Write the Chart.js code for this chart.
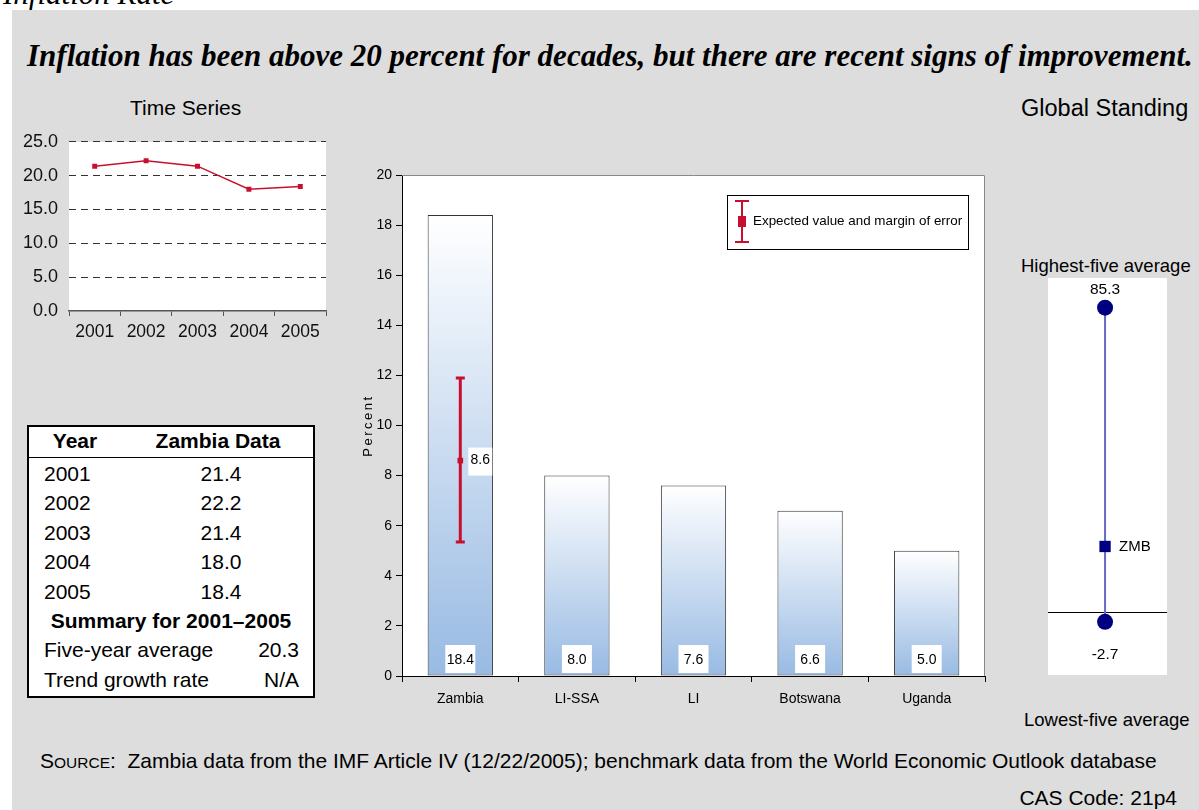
<!DOCTYPE html>
<html><head><meta charset="utf-8">
<script src="https://cdn.jsdelivr.net/npm/chart.js@4/dist/chart.umd.min.js"></script>
<style>
html,body{margin:0;padding:0;background:#fff;width:1199px;height:810px;overflow:hidden;position:relative;font-family:Arial,"Liberation Sans",sans-serif;}
.panel{position:absolute;left:12px;top:10px;width:1187px;height:800px;background:#dddddd;}
.t{position:absolute;white-space:nowrap;color:#000;}
canvas{position:absolute;}
#tbl{position:absolute;left:27px;top:425px;width:284px;height:269px;border:2px solid #000;background:#fff;font-size:21px;}
#tbl .c{position:absolute;white-space:nowrap;line-height:24px;height:24px;}
</style></head><body>
<div class="t" style="left:3px;top:-22px;font:italic 31px 'Liberation Serif','Times New Roman',serif;line-height:31px;">Inflation Rate</div>
<div class="panel"></div>
<div class="t" style="left:27px;top:38px;font:italic bold 31px 'Liberation Serif','Times New Roman',serif;line-height:36px;">Inflation has been above 20 percent for decades, but there are recent signs of improvement.</div>
<div class="t" style="left:130px;top:95px;font-size:21px;line-height:26px;">Time Series</div>
<div class="t" style="left:1021px;top:94px;font-size:23.5px;line-height:28px;">Global Standing</div>
<div class="t" style="left:1021px;top:254px;font-size:18.5px;line-height:24px;">Highest-five average</div>
<div class="t" style="left:1024px;top:708px;font-size:18.5px;line-height:24px;">Lowest-five average</div>
<div class="t" style="left:40px;top:748px;font-size:21px;line-height:26px;">S<span style="font-size:15.5px">OURCE</span>:&nbsp; Zambia data from the IMF Article IV (12/22/2005); benchmark data from the World Economic Outlook database</div>
<div class="t" style="right:22px;top:785px;font-size:21px;line-height:26px;">CAS Code: 21p4</div>

<div id="tbl"></div>

<canvas id="ts" width="330" height="240" style="left:12px;top:120px;"></canvas>
<canvas id="bar" width="660" height="570" style="left:340px;top:150px;"></canvas>
<canvas id="gs" width="135" height="420" style="left:1040px;top:270px;"></canvas>

<script>
// ---------- data ----------
const years = ['2001', '2002', '2003', '2004', '2005'];
const zambiaInflation = [21.4, 22.2, 21.4, 18.0, 18.4];
const fiveYearAverage = '20.3';
const trendGrowthRate = 'N/A';

const benchCategories = ['Zambia', 'LI-SSA', 'LI', 'Botswana', 'Uganda'];
const benchValues = [18.4, 8.0, 7.6, 6.6, 5.0];
const expectedValue = [8.6, null, null, null, null];
const errorLow = [5.35, null, null, null, null];
const errorHigh = [11.9, null, null, null, null];

const standingRange = [85.3, -2.7];   // highest-five avg, lowest-five avg
const standingZMB = [18.4];

const RED = '#c8102e';
const NAVY = '#000080';
const NARROW = "'Liberation Sans Narrow','Arial Narrow',Arial,sans-serif";

// ---------- table ----------
(function(){
  const tbl = document.getElementById('tbl');
  const add = (html, style) => { const d = document.createElement('div'); d.className = 'c'; d.innerHTML = html; d.style.cssText += style; tbl.appendChild(d); };
  add('<b>Year</b>', 'left:0;width:92px;text-align:center;top:2px;');
  add('<b>Zambia Data</b>', 'left:119px;width:140px;text-align:center;top:2px;');
  const line = document.createElement('div'); line.style.cssText = 'position:absolute;left:0;right:0;top:30px;height:0;border-top:1.5px solid #000;'; tbl.appendChild(line);
  const rowTop = i => (35 + i * 29.4) + 'px';
  years.forEach((y, i) => {
    add(y, 'left:15px;top:' + rowTop(i) + ';');
    add(zambiaInflation[i].toFixed(1), 'left:152px;width:80px;text-align:center;top:' + rowTop(i) + ';');
  });
  add('<b>Summary for 2001–2005</b>', 'left:0;width:284px;text-align:center;top:' + rowTop(5) + ';');
  add('Five-year average', 'left:15px;top:' + rowTop(6) + ';');
  add(fiveYearAverage, 'right:14px;top:' + rowTop(6) + ';');
  add('Trend growth rate', 'left:15px;top:' + rowTop(7) + ';');
  add(trendGrowthRate, 'right:14px;top:' + rowTop(7) + ';');
})();

// ---------- plugins ----------
const whitePlot = { id: 'whitePlot', beforeDraw(chart) {
  const { ctx, chartArea: a } = chart; ctx.save(); ctx.fillStyle = '#fff';
  ctx.fillRect(a.left, a.top, a.right - a.left, a.bottom - a.top); ctx.restore(); } };

// ---------- time series ----------
new Chart(document.getElementById('ts'), {
  type: 'line',
  data: { labels: years, datasets: [{ data: zambiaInflation, borderColor: RED, backgroundColor: RED, borderWidth: 1.5,
    pointStyle: 'rect', pointRadius: 3.5, pointBorderWidth: 0, tension: 0 }] },
  options: {
    responsive: false, animation: false, events: [],
    plugins: { legend: { display: false }, tooltip: { enabled: false } },
    layout: { padding: { left: 0, right: 16, top: 17, bottom: 0 } },
    scales: {
      x: { offset: true, afterFit: s => { s.height = 49; },
        grid: { offset: true, drawOnChartArea: false, tickLength: 5, color: '#555' },
        border: { color: '#555', width: 1.5 },
        ticks: { font: { family: 'Arial', size: 17.5 }, color: '#111', padding: 6 } },
      y: { min: 0, max: 25, afterFit: s => { s.width = 57; },
        ticks: { stepSize: 5, callback: v => Number(v).toFixed(1), font: { family: 'Arial', size: 18 }, color: '#111', padding: 11 },
        grid: { drawTicks: false, color: c => (c.tick && c.tick.value === 0) ? 'rgba(0,0,0,0)' : '#333', lineWidth: 1 },
        border: { display: false, dash: [7, 5] } }
    }
  },
  plugins: [whitePlot]
});

// ---------- benchmark bars ----------
const barDecor = {
  id: 'barDecor',
  afterDatasetDraw(chart, args) {
    if (args.index !== 1) return;
    const { ctx, scales: { x, y } } = chart;
    ctx.save();
    ctx.strokeStyle = RED; ctx.lineWidth = 3;
    errorLow.forEach((lo, i) => {
      if (lo == null) return;
      const px = x.getPixelForValue(i);
      const y1 = y.getPixelForValue(lo), y2 = y.getPixelForValue(errorHigh[i]);
      ctx.beginPath(); ctx.moveTo(px, y1); ctx.lineTo(px, y2);
      ctx.moveTo(px - 4.5, y1); ctx.lineTo(px + 4.5, y1);
      ctx.moveTo(px - 4.5, y2); ctx.lineTo(px + 4.5, y2); ctx.stroke();
    });
    ctx.restore();
  },
  afterDraw(chart) {
    const { ctx, chartArea: a, scales: { x, y } } = chart;
    ctx.save();
    // top/right frame
    ctx.strokeStyle = '#888'; ctx.lineWidth = 1;
    ctx.beginPath(); ctx.moveTo(a.left, a.top + 0.5); ctx.lineTo(a.right - 0.5, a.top + 0.5); ctx.lineTo(a.right - 0.5, a.bottom); ctx.stroke();
    // y-axis title (letter-spaced)
    ctx.save();
    ctx.translate(28, (a.top + a.bottom) / 2); ctx.rotate(-Math.PI / 2);
    ctx.font = '13px Arial'; ctx.fillStyle = '#000'; ctx.textAlign = 'center'; ctx.textBaseline = 'middle';
    try { ctx.letterSpacing = '2.5px'; } catch (e) {}
    ctx.fillText('Percent', 0, 0);
    ctx.restore();
    // value boxes
    ctx.font = '14px ' + NARROW; ctx.textAlign = 'center'; ctx.textBaseline = 'middle';
    const meta = chart.getDatasetMeta(1);
    meta.data.forEach((bar, i) => {
      const base = y.getPixelForValue(0);
      ctx.fillStyle = '#fff'; ctx.fillRect(bar.x - 15, base - 31, 30, 28);
      ctx.fillStyle = '#000'; ctx.fillText(benchValues[i].toFixed(1), bar.x, base - 16);
    });
    // expected value label
    expectedValue.forEach((v, i) => {
      if (v == null) return;
      const px = x.getPixelForValue(i), py = y.getPixelForValue(v);
      ctx.fillStyle = '#fff'; ctx.fillRect(px + 8, py - 13, 24, 28);
      ctx.fillStyle = '#000'; ctx.fillText(v.toFixed(1), px + 20, py);
    });
    // legend
    const lx = a.right - 258, ly = a.top + 20, lw = 241, lh = 54;
    ctx.fillStyle = '#fff'; ctx.fillRect(lx, ly, lw, lh);
    ctx.strokeStyle = '#000'; ctx.lineWidth = 1; ctx.strokeRect(lx + 0.5, ly + 0.5, lw, lh);
    const sx = lx + 15;
    ctx.strokeStyle = RED; ctx.lineWidth = 2;
    ctx.beginPath(); ctx.moveTo(sx, ly + 6); ctx.lineTo(sx, ly + 47);
    ctx.moveTo(sx - 7, ly + 6); ctx.lineTo(sx + 7, ly + 6);
    ctx.moveTo(sx - 7, ly + 47); ctx.lineTo(sx + 7, ly + 47); ctx.stroke();
    ctx.fillStyle = RED; ctx.fillRect(sx - 4, ly + 21, 8, 11);
    ctx.fillStyle = '#000'; ctx.textAlign = 'left'; ctx.font = '13.4px ' + NARROW;
    ctx.fillText('Expected value and margin of error', lx + 26, ly + 26);
    ctx.restore();
  }
};

new Chart(document.getElementById('bar'), {
  data: { labels: benchCategories, datasets: [
    { type: 'line', data: expectedValue, showLine: false, pointStyle: 'rect', pointRadius: 4, pointBorderWidth: 0,
      backgroundColor: RED, borderColor: RED },
    { type: 'bar', data: benchValues, borderColor: '#333', borderWidth: 1, borderSkipped: false,
      barPercentage: 0.7, categoryPercentage: 0.8,
      backgroundColor: c => {
        const ch = c.chart; if (!ch.chartArea || c.type !== 'data') return '#c9daf0';
        const y0 = ch.scales.y.getPixelForValue(0), y1 = ch.scales.y.getPixelForValue(c.raw);
        const g = ch.ctx.createLinearGradient(0, y1, 0, y0);
        g.addColorStop(0, '#ffffff'); g.addColorStop(1, '#98bae3');
        return g;
      } }
  ] },
  options: {
    responsive: false, animation: false, events: [],
    plugins: { legend: { display: false }, tooltip: { enabled: false } },
    layout: { padding: { left: 0, right: 15, top: 25, bottom: 0 } },
    scales: {
      x: { afterFit: s => { s.height = 44; },
        grid: { offset: true, drawOnChartArea: false, tickLength: 6, color: '#000' },
        border: { color: '#000', width: 1 },
        ticks: { font: { family: NARROW, size: 14 }, color: '#000', padding: 9 } },
      y: { min: 0, max: 20, afterFit: s => { s.width = 62; },
        ticks: { stepSize: 2, font: { family: NARROW, size: 14 }, color: '#000', padding: 4 },
        grid: { drawOnChartArea: false, tickLength: 6, color: '#000' },
        border: { color: '#000', width: 1 } }
    }
  },
  plugins: [whitePlot, barDecor]
});

// ---------- global standing ----------
const gsDecor = {
  id: 'gsDecor',
  beforeDatasetsDraw(chart) {
    const { ctx, chartArea: a, scales: { y } } = chart;
    const y0 = Math.round(y.getPixelForValue(0)) + 0.5;
    ctx.save(); ctx.strokeStyle = '#000'; ctx.lineWidth = 1;
    ctx.beginPath(); ctx.moveTo(a.left, y0); ctx.lineTo(a.right, y0); ctx.stroke(); ctx.restore();
  },
  afterDraw(chart) {
    const { ctx, scales: { x, y } } = chart;
    ctx.save(); ctx.font = '15.5px Arial'; ctx.fillStyle = '#000'; ctx.textBaseline = 'middle'; ctx.textAlign = 'center';
    const px = x.getPixelForValue(0);
    ctx.fillText(standingRange[0].toFixed(1), px, y.getPixelForValue(standingRange[0]) - 18);
    ctx.fillText(standingRange[1].toFixed(1), px, y.getPixelForValue(standingRange[1]) + 33);
    ctx.textAlign = 'left'; ctx.font = '15px Arial';
    ctx.fillText('ZMB', px + 14, y.getPixelForValue(standingZMB[0]));
    ctx.restore();
  }
};

new Chart(document.getElementById('gs'), {
  type: 'scatter',
  data: { datasets: [
    { data: [{ x: 0, y: standingZMB[0] }], pointStyle: 'rect', pointRadius: 8, pointBorderWidth: 0, backgroundColor: NAVY },
    { data: standingRange.map(v => ({ x: 0, y: v })), showLine: true, borderColor: '#6a6ac4', borderWidth: 2,
      pointStyle: 'circle', pointRadius: 8, pointBorderWidth: 0, backgroundColor: NAVY }
  ] },
  options: {
    responsive: false, animation: false, events: [],
    plugins: { legend: { display: false }, tooltip: { enabled: false } },
    layout: { padding: { left: 6, right: 8, top: 6, bottom: 15 } },
    scales: {
      x: { display: false, min: -1, max: 1.086 },
      y: { display: false, min: -17.6, max: 93.6 }
    }
  },
  plugins: [whitePlot, gsDecor]
});
</script>
</body></html>
